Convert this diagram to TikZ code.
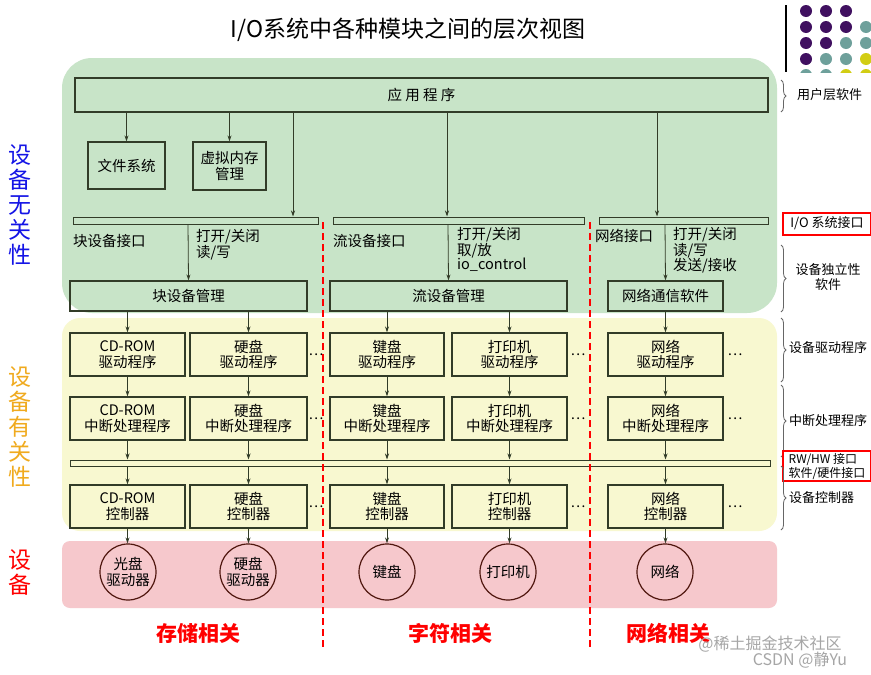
\documentclass[tikz,border=0pt]{standalone}
\usepackage{fontspec}
\setmainfont{Noto Sans CJK SC}
\usetikzlibrary{arrows.meta,decorations.pathreplacing}
\definecolor{gbg}{RGB}{200,228,200}
\definecolor{ybg}{RGB}{248,248,208}
\definecolor{pbg}{RGB}{246,200,204}
\definecolor{edge}{RGB}{50,60,40}
\definecolor{dpur}{RGB}{64,16,96}
\definecolor{dteal}{RGB}{110,160,155}
\definecolor{dyel}{RGB}{210,205,20}
\definecolor{lblblue}{RGB}{20,20,230}
\definecolor{lblorange}{RGB}{240,170,30}
\tikzset{
 box/.style={draw=edge,line width=1.3pt,align=center,font=\fontsize{14.5}{15.5}\selectfont,inner sep=0pt},
 bar/.style={draw=edge,line width=1pt,inner sep=0pt},
 dev/.style={circle,draw=edge!60!red!60!black,line width=1.2pt,minimum size=56pt,inner sep=0pt,align=center,font=\fontsize{14.5}{15.5}\selectfont},
 arr/.style={-{Stealth[length=6pt,width=4pt]},edge,line width=0.8pt},
 lbl/.style={font=\fontsize{14.5}{14.5}\selectfont,align=left,inner sep=0pt,anchor=north west},
 rlbl/.style={font=\fontsize{13}{15}\selectfont,align=center,inner sep=0pt},
 brc/.style={decorate,decoration={brace,amplitude=5pt},draw=black!60,line width=0.8pt},
 side/.style={font=\fontsize{23}{25}\selectfont,align=center},
 sect/.style={font=\bfseries\fontsize{21}{23}\selectfont,text=red},
 dots/.style={font=\fontsize{14}{14}\selectfont}
}
\begin{document}
\begin{tikzpicture}[x=1pt,y=-1pt]
\clip (0,0) rectangle (871,675);
\fill[white] (0,0) rectangle (871,675);
% backgrounds
\fill[gbg,rounded corners=30pt] (62,58) rectangle (777,313);
\fill[ybg,rounded corners=18pt] (62,318) rectangle (777,531);
\fill[pbg,rounded corners=8pt] (62,541) rectangle (777,608);
% title
\node[font=\fontsize{23}{25}\selectfont] (title) at (408,30) {I/O系统中各种模块之间的层次视图};
% decoration dots
\draw[line width=1.5pt] (786,5) -- (786,72);
\foreach \r/\cols in {0/{dpur,dpur,dpur,white},1/{dpur,dpur,dpur,dteal},2/{dpur,dpur,dteal,dteal},3/{dpur,dteal,dteal,dyel},4/{dteal,dteal,dyel,dyel}}{
  \foreach \c [count=\i from 0] in \cols {\fill[\c] (806+20*\i,11+16*\r) circle (6pt);}
}
\fill[white] (790,73) rectangle (871,85);
% top
\node[box,minimum width=693pt,minimum height=34pt] (app) at (421.5,95) {应\ 用\ 程\ 序};
\node[box,minimum width=77pt,minimum height=47pt] (fs) at (126.5,165.5) {文件系统};
\node[box,minimum width=73pt,minimum height=48pt] (vm) at (229.5,166) {虚拟内存\\管理};
\node[bar,minimum width=245pt,minimum height=7pt] (b1) at (195.5,220.5) {};
\node[bar,minimum width=251pt,minimum height=7pt] (b2) at (458.5,220.5) {};
\node[bar,minimum width=169pt,minimum height=7pt] (b3) at (683.5,220.5) {};
\draw[arr] (fs.north |- app.south) -- (fs.north);
\draw[arr] (vm.north |- app.south) -- (vm.north);
\coordinate (c1) at (293,220.5);
\draw[arr] (c1 |- app.south) -- (c1 |- b1.north);
\coordinate (c2) at (447,220.5);
\draw[arr] (c2 |- app.south) -- (c2 |- b2.north);
\coordinate (c3) at (657,220.5);
\draw[arr] (c3 |- app.south) -- (c3 |- b3.north);
% interface labels
\node[lbl] (l1) at (73,234) {块设备接口};
\node[lbl] (l2) at (196,229) {打开/关闭\\读/写};
\node[lbl] (l3) at (333,234) {流设备接口};
\node[lbl] (l4) at (457,227) {打开/关闭\\取/放\\io\_control};
\node[lbl] (l5) at (595,229) {网络接口};
\node[lbl] (l6) at (673,227) {打开/关闭\\读/写\\发送/接收};
% management
\node[box,minimum width=237pt,minimum height=30pt] (m1) at (188.5,296) {块设备管理};
\node[box,minimum width=237pt,minimum height=30pt] (m2) at (448.5,296) {流设备管理};
\node[box,minimum width=115pt,minimum height=30pt] (m3) at (665.5,296) {网络通信软件};
\draw[arr] (188,224) -- (m1.north);
\draw[arr] (448,224) -- (m2.north);
\draw[arr] (665,224) -- (m3.north);
% drivers
\foreach \n/\x/\w/\t in {d1/127.5/115/CD-ROM\\驱动程序, d2/248.5/117/硬盘\\驱动程序, d3/387/114/键盘\\驱动程序, d4/509.5/115/打印机\\驱动程序, d5/665.5/115/网络\\驱动程序}{
 \node[box,minimum width=\w pt,minimum height=43pt] (\n) at (\x,354.5) {\t};
}
\foreach \n/\x/\w/\t in {i1/127.5/115/CD-ROM\\中断处理程序, i2/248.5/117/硬盘\\中断处理程序, i3/387/114/键盘\\中断处理程序, i4/509.5/115/打印机\\中断处理程序, i5/665.5/115/网络\\中断处理程序}{
 \node[box,minimum width=\w pt,minimum height=43pt] (\n) at (\x,418.5) {\t};
}
\node[bar,minimum width=700pt,minimum height=6pt] (rw) at (420,463) {};
\foreach \n/\x/\w/\t in {k1/127.5/115/CD-ROM\\控制器, k2/248.5/117/硬盘\\控制器, k3/387/114/键盘\\控制器, k4/509.5/115/打印机\\控制器, k5/665.5/115/网络\\控制器}{
 \node[box,minimum width=\w pt,minimum height=43pt] (\n) at (\x,506.5) {\t};
}
\node[dev] (e1) at (128,572) {光盘\\驱动器};
\node[dev] (e2) at (248,572) {硬盘\\驱动器};
\node[dev] (e3) at (387,572) {键盘};
\node[dev] (e4) at (508,572) {打印机};
\node[dev] (e5) at (665,572) {网络};
\draw[arr] (m1.south -| d1) -- (d1.north);
\draw[arr] (m1.south -| d2) -- (d2.north);
\draw[arr] (m2.south -| d3) -- (d3.north);
\draw[arr] (m2.south -| d4) -- (d4.north);
\draw[arr] (m3.south) -- (d5.north);
\foreach \k in {1,...,5}{
 \draw[arr] (d\k.south) -- (i\k.north);
 \draw[arr] (i\k.south) -- (i\k.south |- rw.north);
 \draw[arr] (k\k.north |- rw.south) -- (k\k.north);
 \draw[arr] (k\k.south) -- (k\k.south |- e\k.north);
}
\foreach \y in {354.5,418.5,506.5}{
 \node[dots] at (316,\y) {…};
 \node[dots] at (578,\y) {…};
 \node[dots] at (735,\y) {…};
}
% dashed separators
\draw[red,line width=1.2pt,dash pattern=on 7pt off 4pt] (323,222) -- (323,648);
\draw[red,line width=1.2pt,dash pattern=on 7pt off 4pt] (590,222) -- (590,648);
% side labels
\node[side,text=lblblue] (s1) at (20,205) {设\\备\\无\\关\\性};
\node[side,text=lblorange] (s2) at (20,427) {设\\备\\有\\关\\性};
\node[side,text=red] (s3) at (20,572) {设\\备};
\node[sect] (x1) at (198,633) {存储相关};
\node[sect] (x2) at (450,633) {字符相关};
\node[sect] (x3) at (668,633) {网络相关};
% right braces
\draw[brc] (781,80) -- (781,112);
\node[rlbl,anchor=west] (r1) at (797,95) {用户层软件};
\node[draw=red,line width=2pt,inner sep=2pt,anchor=west,font=\fontsize{13}{14}\selectfont,minimum height=22pt,minimum width=88pt] (r2) at (782,223.5) {I/O 系统接口};
\draw[brc] (781,245) -- (781,312);
\node[rlbl] (r3) at (828,277) {设备独立性\\软件};
\draw[brc] (781,318) -- (781,382);
\node[rlbl,anchor=west] (r4) at (789,348) {设备驱动程序};
\draw[brc] (781,385) -- (781,457);
\node[rlbl,anchor=west] (r5) at (789,421) {中断处理程序};
\node[draw=red,line width=2pt,inner sep=2pt,anchor=north west,align=left,font=\fontsize{12}{14}\selectfont,minimum width=88pt] (r6) at (782,450) {RW/HW 接口\\软件/硬件接口};
\draw[brc] (781,466) -- (781,530);
\node[rlbl,anchor=west] (r7) at (789,498) {设备控制器};
% watermark
\node[text=black!35,font=\fontsize{16}{17}\selectfont] (w1) at (770,644) {@稀土掘金技术社区};
\node[text=black!35,font=\fontsize{16}{17}\selectfont] (w2) at (800,660) {CSDN @静Yu};
\end{tikzpicture}
\end{document}
